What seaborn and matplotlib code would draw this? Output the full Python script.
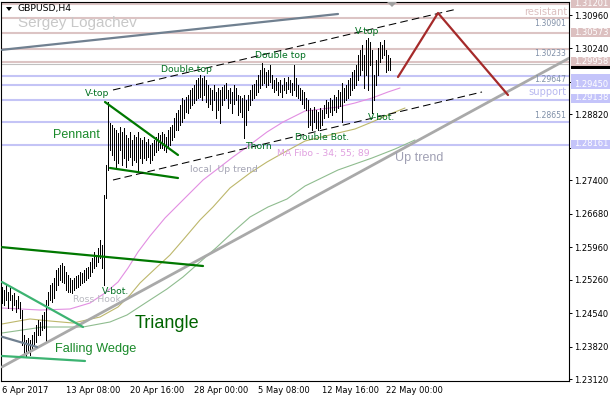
import numpy as np
import pandas as pd
import seaborn as sns
import matplotlib.pyplot as plt
from matplotlib.patches import Rectangle, Polygon

sns.set_style("white")
plt.rcParams['font.family'] = ['DejaVu Sans']
plt.rcParams['lines.scale_dashes'] = False

W, H = 610, 400

# GBPUSD H4 bars (high / low), one per bar from 6 Apr 2017
bar_high = [1.2510, 1.2504, 1.2514, 1.2499, 1.2508, 1.2493, 1.2497, 1.2482, 1.2491, 1.2478,
            1.2461, 1.2407, 1.2396, 1.2400, 1.2396, 1.2407, 1.2413, 1.2428, 1.2439, 1.2435,
            1.2450, 1.2456, 1.2482, 1.2499, 1.2514, 1.2519, 1.2530, 1.2547, 1.2551, 1.2558,
            1.2562, 1.2555, 1.2542, 1.2536, 1.2530, 1.2525, 1.2530, 1.2534, 1.2536, 1.2542,
            1.2540, 1.2547, 1.2551, 1.2553, 1.2564, 1.2573, 1.2586, 1.2579, 1.2594, 1.2611,
            1.2601, 1.2708, 1.2773, 1.2909, 1.2863, 1.2859, 1.2853, 1.2848, 1.2842, 1.2855,
            1.2844, 1.2853, 1.2838, 1.2831, 1.2844, 1.2827, 1.2838, 1.2833, 1.2844, 1.2831,
            1.2827, 1.2833, 1.2822, 1.2829, 1.2816, 1.2820, 1.2827, 1.2833, 1.2842, 1.2838,
            1.2844, 1.2840, 1.2833, 1.2848, 1.2855, 1.2859, 1.2874, 1.2885, 1.2891, 1.2902,
            1.2917, 1.2913, 1.2919, 1.2924, 1.2934, 1.2939, 1.2945, 1.2956, 1.2960, 1.2967,
            1.2960, 1.2965, 1.2956, 1.2945, 1.2939, 1.2934, 1.2945, 1.2930, 1.2939, 1.2934,
            1.2941, 1.2945, 1.2950, 1.2934, 1.2939, 1.2930, 1.2945, 1.2939, 1.2924, 1.2922,
            1.2917, 1.2924, 1.2913, 1.2924, 1.2934, 1.2945, 1.2947, 1.2956, 1.2967, 1.2978,
            1.2993, 1.2982, 1.2973, 1.2978, 1.2988, 1.2967, 1.2956, 1.2960, 1.2952, 1.2956,
            1.2945, 1.2960, 1.2952, 1.2962, 1.2956, 1.2950, 1.2988, 1.2960, 1.2945, 1.2939,
            1.2934, 1.2930, 1.2917, 1.2913, 1.2896, 1.2891, 1.2898, 1.2891, 1.2887, 1.2896,
            1.2891, 1.2902, 1.2913, 1.2909, 1.2917, 1.2913, 1.2924, 1.2919, 1.2934, 1.2930,
            1.2950, 1.2939, 1.2945, 1.2956, 1.2960, 1.2973, 1.2978, 1.2988, 1.3010, 1.3021,
            1.3031, 1.3010, 1.3042, 1.3046, 1.3038, 1.3021, 1.2967, 1.2999, 1.3025, 1.3038,
            1.3031, 1.3042, 1.3021, 1.3010, 1.3003]
bar_low = [1.2476, 1.2471, 1.2482, 1.2465, 1.2482, 1.2461, 1.2471, 1.2456, 1.2465, 1.2443,
           1.2385, 1.2364, 1.2359, 1.2370, 1.2364, 1.2379, 1.2385, 1.2392, 1.2407, 1.2407,
           1.2418, 1.2422, 1.2392, 1.2471, 1.2482, 1.2478, 1.2486, 1.2504, 1.2514, 1.2525,
           1.2521, 1.2519, 1.2504, 1.2499, 1.2499, 1.2497, 1.2504, 1.2508, 1.2510, 1.2514,
           1.2519, 1.2521, 1.2525, 1.2530, 1.2534, 1.2542, 1.2551, 1.2555, 1.2564, 1.2573,
           1.2551, 1.2514, 1.2702, 1.2762, 1.2805, 1.2794, 1.2784, 1.2769, 1.2777, 1.2805,
           1.2773, 1.2788, 1.2769, 1.2784, 1.2790, 1.2773, 1.2784, 1.2779, 1.2758, 1.2788,
           1.2777, 1.2788, 1.2784, 1.2790, 1.2777, 1.2784, 1.2794, 1.2801, 1.2805, 1.2810,
           1.2810, 1.2805, 1.2801, 1.2812, 1.2816, 1.2827, 1.2833, 1.2848, 1.2848, 1.2859,
           1.2866, 1.2874, 1.2887, 1.2885, 1.2896, 1.2902, 1.2906, 1.2913, 1.2917, 1.2919,
           1.2913, 1.2924, 1.2909, 1.2898, 1.2904, 1.2891, 1.2913, 1.2874, 1.2891, 1.2863,
           1.2902, 1.2913, 1.2917, 1.2896, 1.2906, 1.2885, 1.2904, 1.2913, 1.2881, 1.2887,
           1.2876, 1.2831, 1.2859, 1.2891, 1.2902, 1.2913, 1.2917, 1.2924, 1.2930, 1.2939,
           1.2945, 1.2950, 1.2941, 1.2945, 1.2952, 1.2939, 1.2930, 1.2934, 1.2924, 1.2930,
           1.2919, 1.2934, 1.2928, 1.2937, 1.2930, 1.2924, 1.2934, 1.2922, 1.2917, 1.2913,
           1.2904, 1.2896, 1.2891, 1.2855, 1.2859, 1.2848, 1.2866, 1.2853, 1.2848, 1.2853,
           1.2859, 1.2874, 1.2885, 1.2876, 1.2887, 1.2881, 1.2891, 1.2887, 1.2896, 1.2900,
           1.2866, 1.2909, 1.2913, 1.2917, 1.2924, 1.2934, 1.2939, 1.2945, 1.2956, 1.2967,
           1.2978, 1.2939, 1.2967, 1.2934, 1.2988, 1.2885, 1.2913, 1.2945, 1.2967, 1.2995,
           1.3003, 1.3010, 1.2973, 1.2978, 1.2978]

x_ticks = [0, 32, 64, 96, 128, 160, 192]
x_labels = ['6 Apr 2017', '13 Apr 08:00', '20 Apr 16:00', '28 Apr 00:00',
            '5 May 08:00', '12 May 16:00', '22 May 00:00']
y_ticks = [1.3096, 1.3024, 1.2952, 1.2882, 1.2810, 1.2740, 1.2668,
           1.2596, 1.2526, 1.2454, 1.2382, 1.2312]
# these two scale labels sit under the price boxes
y_hidden = [1.2952, 1.2810]

resist_levels = [1.31201, 1.30901, 1.30573, 1.30233, 1.29958]
support_levels = [1.29647, 1.29450, 1.29138, 1.28651, 1.28161]
bid_price = 1.29905

# MA Fibo 34 / 55 / 89
ma34_x = [0, 19, 34, 44, 51.5, 58, 63, 68, 74, 81.5, 90.5, 100.5, 109, 115.5, 122.5,
          132.5, 140.5, 151.5, 168, 176.5, 185, 193, 199]
ma34_y = [1.24649, 1.24606, 1.24628, 1.24757, 1.24973, 1.25209, 1.25511, 1.25856, 1.26200,
          1.26588, 1.26976, 1.27406, 1.27686, 1.27902, 1.28117, 1.28440, 1.28655, 1.28892,
          1.28978, 1.29065, 1.29172, 1.29302, 1.29388]
ma55_x = [0, 14, 24, 35.5, 49, 58, 64, 69, 77.5, 84, 90.5, 99, 105.5, 114, 124, 132.5,
          140.5, 151.5, 168, 176.5, 185, 194, 201.5]
ma55_y = [1.24305, 1.24413, 1.24369, 1.24326, 1.24455, 1.24671, 1.24929, 1.25188, 1.25533,
          1.25791, 1.26114, 1.26545, 1.26825, 1.27234, 1.27557, 1.27794, 1.27988, 1.28246,
          1.28419, 1.28505, 1.28655, 1.28828, 1.28957]
ma89_x = [0, 20.5, 40.5, 54, 62.5, 74, 82.5, 90.5, 99, 107.5, 115.5, 124, 133, 142.5,
          151.5, 168, 185, 196.5, 206.5]
ma89_y = [1.24111, 1.24240, 1.24240, 1.24348, 1.24499, 1.24822, 1.25059, 1.25317, 1.25640,
          1.25963, 1.26286, 1.26609, 1.26825, 1.26997, 1.27277, 1.27622, 1.27880, 1.28074,
          1.28268]

# drawn objects: (bar index points, price points)
up_trend = ([0, 283.5], [1.2338, 1.3003])
top_slate = ([0, 168], [1.3021, 1.30982])
wedge_slate = ([0, 17.5], [1.2403, 1.2381])
triangle_line = ([0, 100.5], [1.2596, 1.25554])
wedge_upper = ([0, 40.5], [1.25209, 1.2424])
wedge_lower = ([0, 41.5], [1.23616, 1.23508])
pennant_upper = ([51.5, 88], [1.29086, 1.27945])
pennant_lower = ([54, 88], [1.27665, 1.27449])
channel_upper = ([55.5, 227.5], [1.29345, 1.31089])
channel_lower = ([55.5, 240], [1.27406, 1.29302])
forecast = ([198, 218, 253], [1.29625, 1.31003, 1.29237])

fig = plt.figure(figsize=(W / 100, H / 100), dpi=100)
ax = fig.add_axes([1 / W, 1 - 381 / H, 568 / W, 379.5 / H])
ax.set_xlim(-0.5, 283.5)
ax.set_ylim(1.23077, 1.31251)

for lv in resist_levels:
    ax.axhline(lv, color='#dcc4c4', lw=1.5, zorder=1)
for lv in support_levels:
    ax.axhline(lv, color='#c4c4f6', lw=1.5, zorder=1)
ax.axhline(bid_price, color='#c0c0c0', lw=0.8, zorder=1)

ma = pd.concat([
    pd.DataFrame({'bar': ma34_x, 'price': ma34_y, 'ma': '34'}),
    pd.DataFrame({'bar': ma55_x, 'price': ma55_y, 'ma': '55'}),
    pd.DataFrame({'bar': ma89_x, 'price': ma89_y, 'ma': '89'}),
])
sns.lineplot(data=ma, x='bar', y='price', hue='ma', sort=False, estimator=None,
             palette={'34': '#e28ee2', '55': '#bdb76b', '89': '#8fbc8f'},
             lw=0.8, legend=False, ax=ax, zorder=2)

bars = np.arange(len(bar_high))
ax.vlines(bars, bar_low, bar_high, color='black', lw=0.5, zorder=3, antialiased=False)

sns.lineplot(x=up_trend[0], y=up_trend[1], color='#a9a9a9', lw=2.0, ax=ax, zorder=4)
sns.lineplot(x=top_slate[0], y=top_slate[1], color='#708090', lw=1.6, ax=ax, zorder=4)
sns.lineplot(x=wedge_slate[0], y=wedge_slate[1], color='#708090', lw=1.6, ax=ax, zorder=4)
for ln in (triangle_line, pennant_upper, pennant_lower):
    sns.lineplot(x=ln[0], y=ln[1], color='#007800', lw=1.6, ax=ax, zorder=4)
for ln in (wedge_upper, wedge_lower):
    sns.lineplot(x=ln[0], y=ln[1], color='#3cb371', lw=1.6, ax=ax, zorder=4)
for ln in (channel_upper, channel_lower):
    ax.plot(ln[0], ln[1], color='black', lw=0.75, dashes=(5.5, 3), zorder=4)
ax.plot(forecast[0], forecast[1], color='#a52a2a', lw=1.6, zorder=4)

ax.set_xlabel('')
ax.set_ylabel('')
ax.set_xticks(x_ticks)
ax.set_xticklabels(x_labels, ha='left')
ax.yaxis.tick_right()
ax.set_yticks(y_ticks)
ax.set_yticklabels(['' if v in y_hidden else '%.5f' % v for v in y_ticks])
ax.tick_params(axis='both', direction='out', length=2.5, width=0.7, color='black',
               labelsize=6, pad=1.5, labelcolor='black')
ax.tick_params(axis='x', pad=1)
for sp in ax.spines.values():
    sp.set_color('black')
    sp.set_linewidth(0.8)


def ptext(x, y, s, **kw):
    kw.setdefault('va', 'center')
    kw.setdefault('ha', 'left')
    fig.text(x / W, 1 - y / H, s, **kw)


green = '#007020'
ptext(17, 9, 'GBPUSD,H4', fontsize=6.7, color='black')
fig.add_artist(Polygon([[6 / W, 1 - 7 / H], [12 / W, 1 - 7 / H], [9 / W, 1 - 11 / H]],
                       closed=True, transform=fig.transFigure, fc='black', ec='none'))
fig.add_artist(Polygon([[387 / W, 1 - 2 / H], [397 / W, 1 - 2 / H], [392 / W, 1 - 7 / H]],
                       closed=True, transform=fig.transFigure, fc='#a0a0a0', ec='none'))
ptext(18, 23, 'Sergey Logachev', fontsize=11, color='#c8c8c8', family='Liberation Sans')
ptext(85, 94, 'V-top', fontsize=6.7, color=green)
ptext(161, 70, 'Double top', fontsize=6.7, color=green)
ptext(255, 56, 'Double top', fontsize=6.7, color=green)
ptext(355, 32, 'V-top', fontsize=6.7, color=green)
ptext(53, 135, 'Pennant', fontsize=9, color='#1a8a2a', family='Liberation Sans')
ptext(245, 147, 'Thorn', fontsize=6.7, color=green)
ptext(295, 138, 'Double Bot.', fontsize=6.7, color=green)
ptext(368, 117, 'V-bot.', fontsize=6.7, color=green)
ptext(190, 169, 'local  Up trend', fontsize=6.7, color='#a4a4b4')
ptext(277, 153, 'MA Fibo - 34; 55; 89', fontsize=6.7, color='#e0a0e0')
ptext(395, 158, 'Up trend', fontsize=9, color='#a0a0b4', family='Liberation Sans')
ptext(102, 291, 'V-bot.', fontsize=6.7, color=green)
ptext(73, 299, 'Ross Hook', fontsize=6.7, color='#b8b8c0')
ptext(135, 324, 'Triangle', fontsize=13, color='#006400', family='Liberation Sans')
ptext(55, 349, 'Falling Wedge', fontsize=9.2, color='#1a8a2a', family='Liberation Sans')

ptext(567, 12, 'resistant', fontsize=7.1, color='#dcc0c0', ha='right')
ptext(567, 92, 'support', fontsize=7.1, color='#b8b8f0', ha='right')
for lbl, yy in (('1.30901', 23), ('1.30233', 53), ('1.29647', 80), ('1.28651', 115)):
    ptext(566, yy, lbl, fontsize=5.6, color='#8090a8', ha='right')

# price boxes on the right scale (label None = box hidden behind the next one)
boxes = [('1.31201', '#dcc0c0', 3.5), ('1.30573', '#dcc0c0', 32.5),
         (None, 'black', 64.5), ('1.29958', '#dcc0c0', 61),
         (None, '#c4c4fa', 78), ('1.29450', '#c4c4fa', 84.5),
         ('1.29138', '#c4c4fa', 98), ('1.28161', '#c4c4fa', 144)]
for k, (lbl, fc, yy) in enumerate(boxes):
    fig.add_artist(Rectangle((571 / W, 1 - (yy + 4.5) / H), 39 / W, 9 / H,
                             transform=fig.transFigure, fc=fc, ec='none', zorder=10 + 2 * k))
    if lbl:
        fig.text(574 / W, 1 - yy / H, lbl, fontsize=6, color='white', va='center',
                 zorder=11 + 2 * k)

fig.savefig('out.png', dpi=100)
